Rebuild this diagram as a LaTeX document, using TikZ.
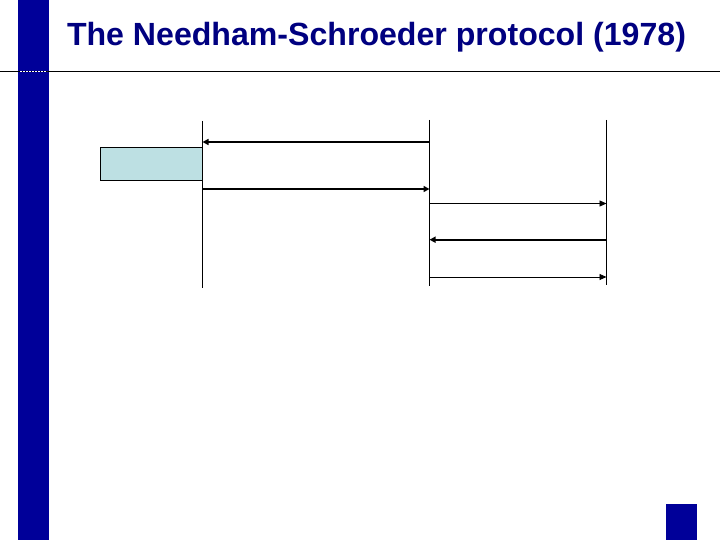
\documentclass[tikz,border=0pt]{standalone}
\usepackage{fontspec}
\setmainfont{Liberation Sans}
\usetikzlibrary{arrows.meta}
\definecolor{barblue}{HTML}{000099}
\definecolor{titleblue}{HTML}{000080}
\definecolor{boxfill}{HTML}{BDE0E3}
\tikzset{
  lifeline/.style={line width=0.9pt, black},
  msgthick/.style={line width=1.8pt, -{Triangle[length=6pt,width=6pt]}},
  msgthin/.style={line width=0.9pt, -{Triangle[length=7pt,width=6pt]}},
}
\begin{document}
\begin{tikzpicture}[x=1pt,y=-1pt]
\useasboundingbox (0,0) rectangle (720,540);
\fill[white] (0,0) rectangle (720,540);
% left bar
\fill[barblue] (18,0) rectangle (48.5,540);
% header rule
\draw[line width=1.6pt] (0,71.5) -- (720,71.5);
\draw[white, line width=1.2pt, dash pattern=on 2pt off 1pt] (20,71.5) -- (47,71.5);
% title
\node[anchor=base, text=titleblue, font=\bfseries\fontsize{32.1}{37}\selectfont, inner sep=0pt] (title) at (376.5,45.5) {The Needham-Schroeder protocol (1978)};
% bottom-right square
\fill[barblue] (666,504) rectangle (697,540);
% lifelines
\coordinate (a0) at (202.5,121);
\coordinate (a1) at (202.5,288);
\coordinate (s0) at (429.5,120);
\coordinate (s1) at (429.5,286);
\coordinate (b0) at (606.5,120);
\coordinate (b1) at (606.5,285);
\draw[lifeline] (a0) -- (a1);
\draw[lifeline] (s0) -- (s1);
\draw[lifeline] (b0) -- (b1);
% box
\node[draw=black, fill=boxfill, line width=0.9pt, minimum width=102pt, minimum height=33pt, inner sep=0pt, anchor=north west] (box) at (99.5,147.3) {};
% messages
\coordinate (m1s) at (429.5,142);  \coordinate (m1e) at (202.5,142);
\coordinate (m2s) at (202.5,189);  \coordinate (m2e) at (429.5,189);
\coordinate (m3s) at (429.5,203.5);\coordinate (m3e) at (606.5,203.5);
\coordinate (m4s) at (606.5,239.7);\coordinate (m4e) at (429.5,239.7);
\coordinate (m5s) at (429.5,277);  \coordinate (m5e) at (606.5,277);
\draw[msgthick] (m1s) -- (m1e);
\draw[msgthick] (m2s) -- (m2e);
\draw[msgthin] (m3s) -- (m3e);
\draw[msgthick] (m4s) -- (m4e);
\draw[msgthin] (m5s) -- (m5e);
\end{tikzpicture}
\end{document}
